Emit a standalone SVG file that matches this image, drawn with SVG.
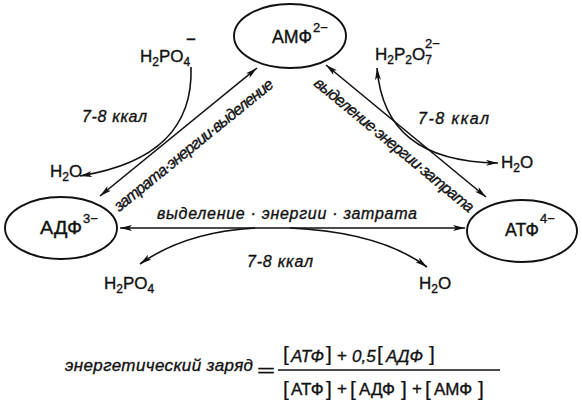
<svg xmlns="http://www.w3.org/2000/svg" width="582" height="407" viewBox="0 0 582 407">
<defs>
<style>
.e{fill:none;stroke:#111;stroke-width:1.9}
.l{fill:none;stroke:#111;stroke-width:1.6}
text{fill:#111;stroke:#111;stroke-width:0.35;font-family:"Liberation Sans",Arial,sans-serif}
.n{font-size:18px}
.s{font-size:13px}
.c{font-size:17px}
.b{font-size:12px}
.i{font-style:italic;font-size:16px}
.f{font-size:17px}
.fi{font-style:italic;font-size:17px}
.br{font-size:21px;stroke-width:0.2}
</style>
<marker id="ah" viewBox="0 0 12 6" refX="12" refY="3" markerWidth="12" markerHeight="6" markerUnits="userSpaceOnUse" orient="auto-start-reverse">
<path d="M0,0 L12,3 L0,6 L3,3 z" fill="#111"/>
</marker>
</defs>
<rect width="582" height="407" fill="#fff"/>

<g id="amf">
<ellipse class="e" cx="290" cy="36" rx="56" ry="32"/>
<text class="n" x="272" y="43" textLength="40" lengthAdjust="spacingAndGlyphs">АМФ</text>
<text class="s" x="313" y="32">2−</text>
</g>
<g id="adf">
<ellipse class="e" cx="61" cy="228" rx="56" ry="31"/>
<text class="n" x="40" y="234" textLength="42" lengthAdjust="spacingAndGlyphs">АДФ</text>
<text class="s" x="83" y="223">3−</text>
</g>
<g id="atf">
<ellipse class="e" cx="522" cy="231" rx="55" ry="31"/>
<text class="n" x="505" y="236" textLength="34" lengthAdjust="spacingAndGlyphs">АТФ</text>
<text class="s" x="540" y="223">4−</text>
</g>

<g id="connectors">
<line class="l" x1="120" y1="228" x2="465" y2="228" marker-start="url(#ah)" marker-end="url(#ah)"/>
<path class="l" d="M255,228 Q185,232 140,264" marker-end="url(#ah)"/>
<path class="l" d="M290,228 Q380,232 427,267" marker-end="url(#ah)"/>
<line class="l" x1="100" y1="196" x2="257" y2="68" marker-start="url(#ah)" marker-end="url(#ah)"/>
<path class="l" d="M191,67 C193,125 160,163 80,176" marker-end="url(#ah)"/>
<line class="l" x1="326" y1="65" x2="486" y2="197" marker-start="url(#ah)" marker-end="url(#ah)"/>
<path class="l" d="M377,68 C382,130 420,162 498,163" marker-start="url(#ah)" marker-end="url(#ah)"/>
</g>

<g id="labels">
<text class="i" x="157" y="219" textLength="260" lengthAdjust="spacing">выделение · энергии · затрата</text>
<text class="i" transform="translate(197,149) rotate(-39)" text-anchor="middle" textLength="200" lengthAdjust="spacing">затрата·энергии·выделение</text>
<text class="i" transform="translate(391,149) rotate(39.5)" text-anchor="middle" textLength="202" lengthAdjust="spacing">выделение·энергии·затрата</text>
<text class="i" x="82" y="122" textLength="65" lengthAdjust="spacing">7-8 ккал</text>
<text class="i" x="418" y="124" textLength="71" lengthAdjust="spacing">7-8 ккал</text>
<text class="i" x="247" y="267" textLength="66" lengthAdjust="spacing">7-8 ккал</text>
</g>

<g id="chem">
<text class="c" x="140" y="62">H<tspan class="b" dy="4">2</tspan><tspan dy="-4">PO</tspan><tspan class="b" dy="4">4</tspan></text>
<text class="c" x="186" y="45">−</text>
<text class="c" x="50" y="177">H<tspan class="b" dy="4">2</tspan><tspan dy="-4">O</tspan></text>
<text class="c" x="375" y="60">H<tspan class="b" dy="4">2</tspan><tspan dy="-4">P</tspan><tspan class="b" dy="4">2</tspan><tspan dy="-4">O</tspan><tspan class="b" dy="4">7</tspan></text>
<text class="s" x="425" y="48">2−</text>
<text class="c" x="501" y="168">H<tspan class="b" dy="4">2</tspan><tspan dy="-4">O</tspan></text>
<text class="c" x="104" y="289">H<tspan class="b" dy="4">2</tspan><tspan dy="-4">PO</tspan><tspan class="b" dy="4">4</tspan></text>
<text class="c" x="419" y="289">H<tspan class="b" dy="4">2</tspan><tspan dy="-4">O</tspan></text>
</g>

<g id="formula">
<text class="fi" x="65" y="371" textLength="188" lengthAdjust="spacing">энергетический  заряд</text>
<text class="f" x="257" y="376" font-size="22" textLength="18" lengthAdjust="spacingAndGlyphs">=</text>
<line x1="278" y1="370" x2="500" y2="370" stroke="#111" stroke-width="1.5"/>
<text class="br" x="283" y="361">[</text>
<text class="fi" x="291" y="362">АТФ</text>
<text class="br" x="326" y="361">]</text>
<text class="f" x="337" y="361">+</text>
<text class="fi" x="352" y="362">0,5</text>
<text class="br" x="377" y="361">[</text>
<text class="fi" x="386" y="362">АДФ</text>
<text class="br" x="429" y="361">]</text>
<text class="br" x="283" y="396">[</text>
<text class="f" x="291" y="395">АТФ</text>
<text class="br" x="326" y="396">]</text>
<text class="f" x="337" y="394">+</text>
<text class="br" x="350" y="396">[</text>
<text class="f" x="359" y="395">АДФ</text>
<text class="br" x="401" y="396">]</text>
<text class="f" x="412" y="394">+</text>
<text class="br" x="425" y="396">[</text>
<text class="f" x="434" y="395">АМФ</text>
<text class="br" x="478" y="396">]</text>
</g>
</svg>
